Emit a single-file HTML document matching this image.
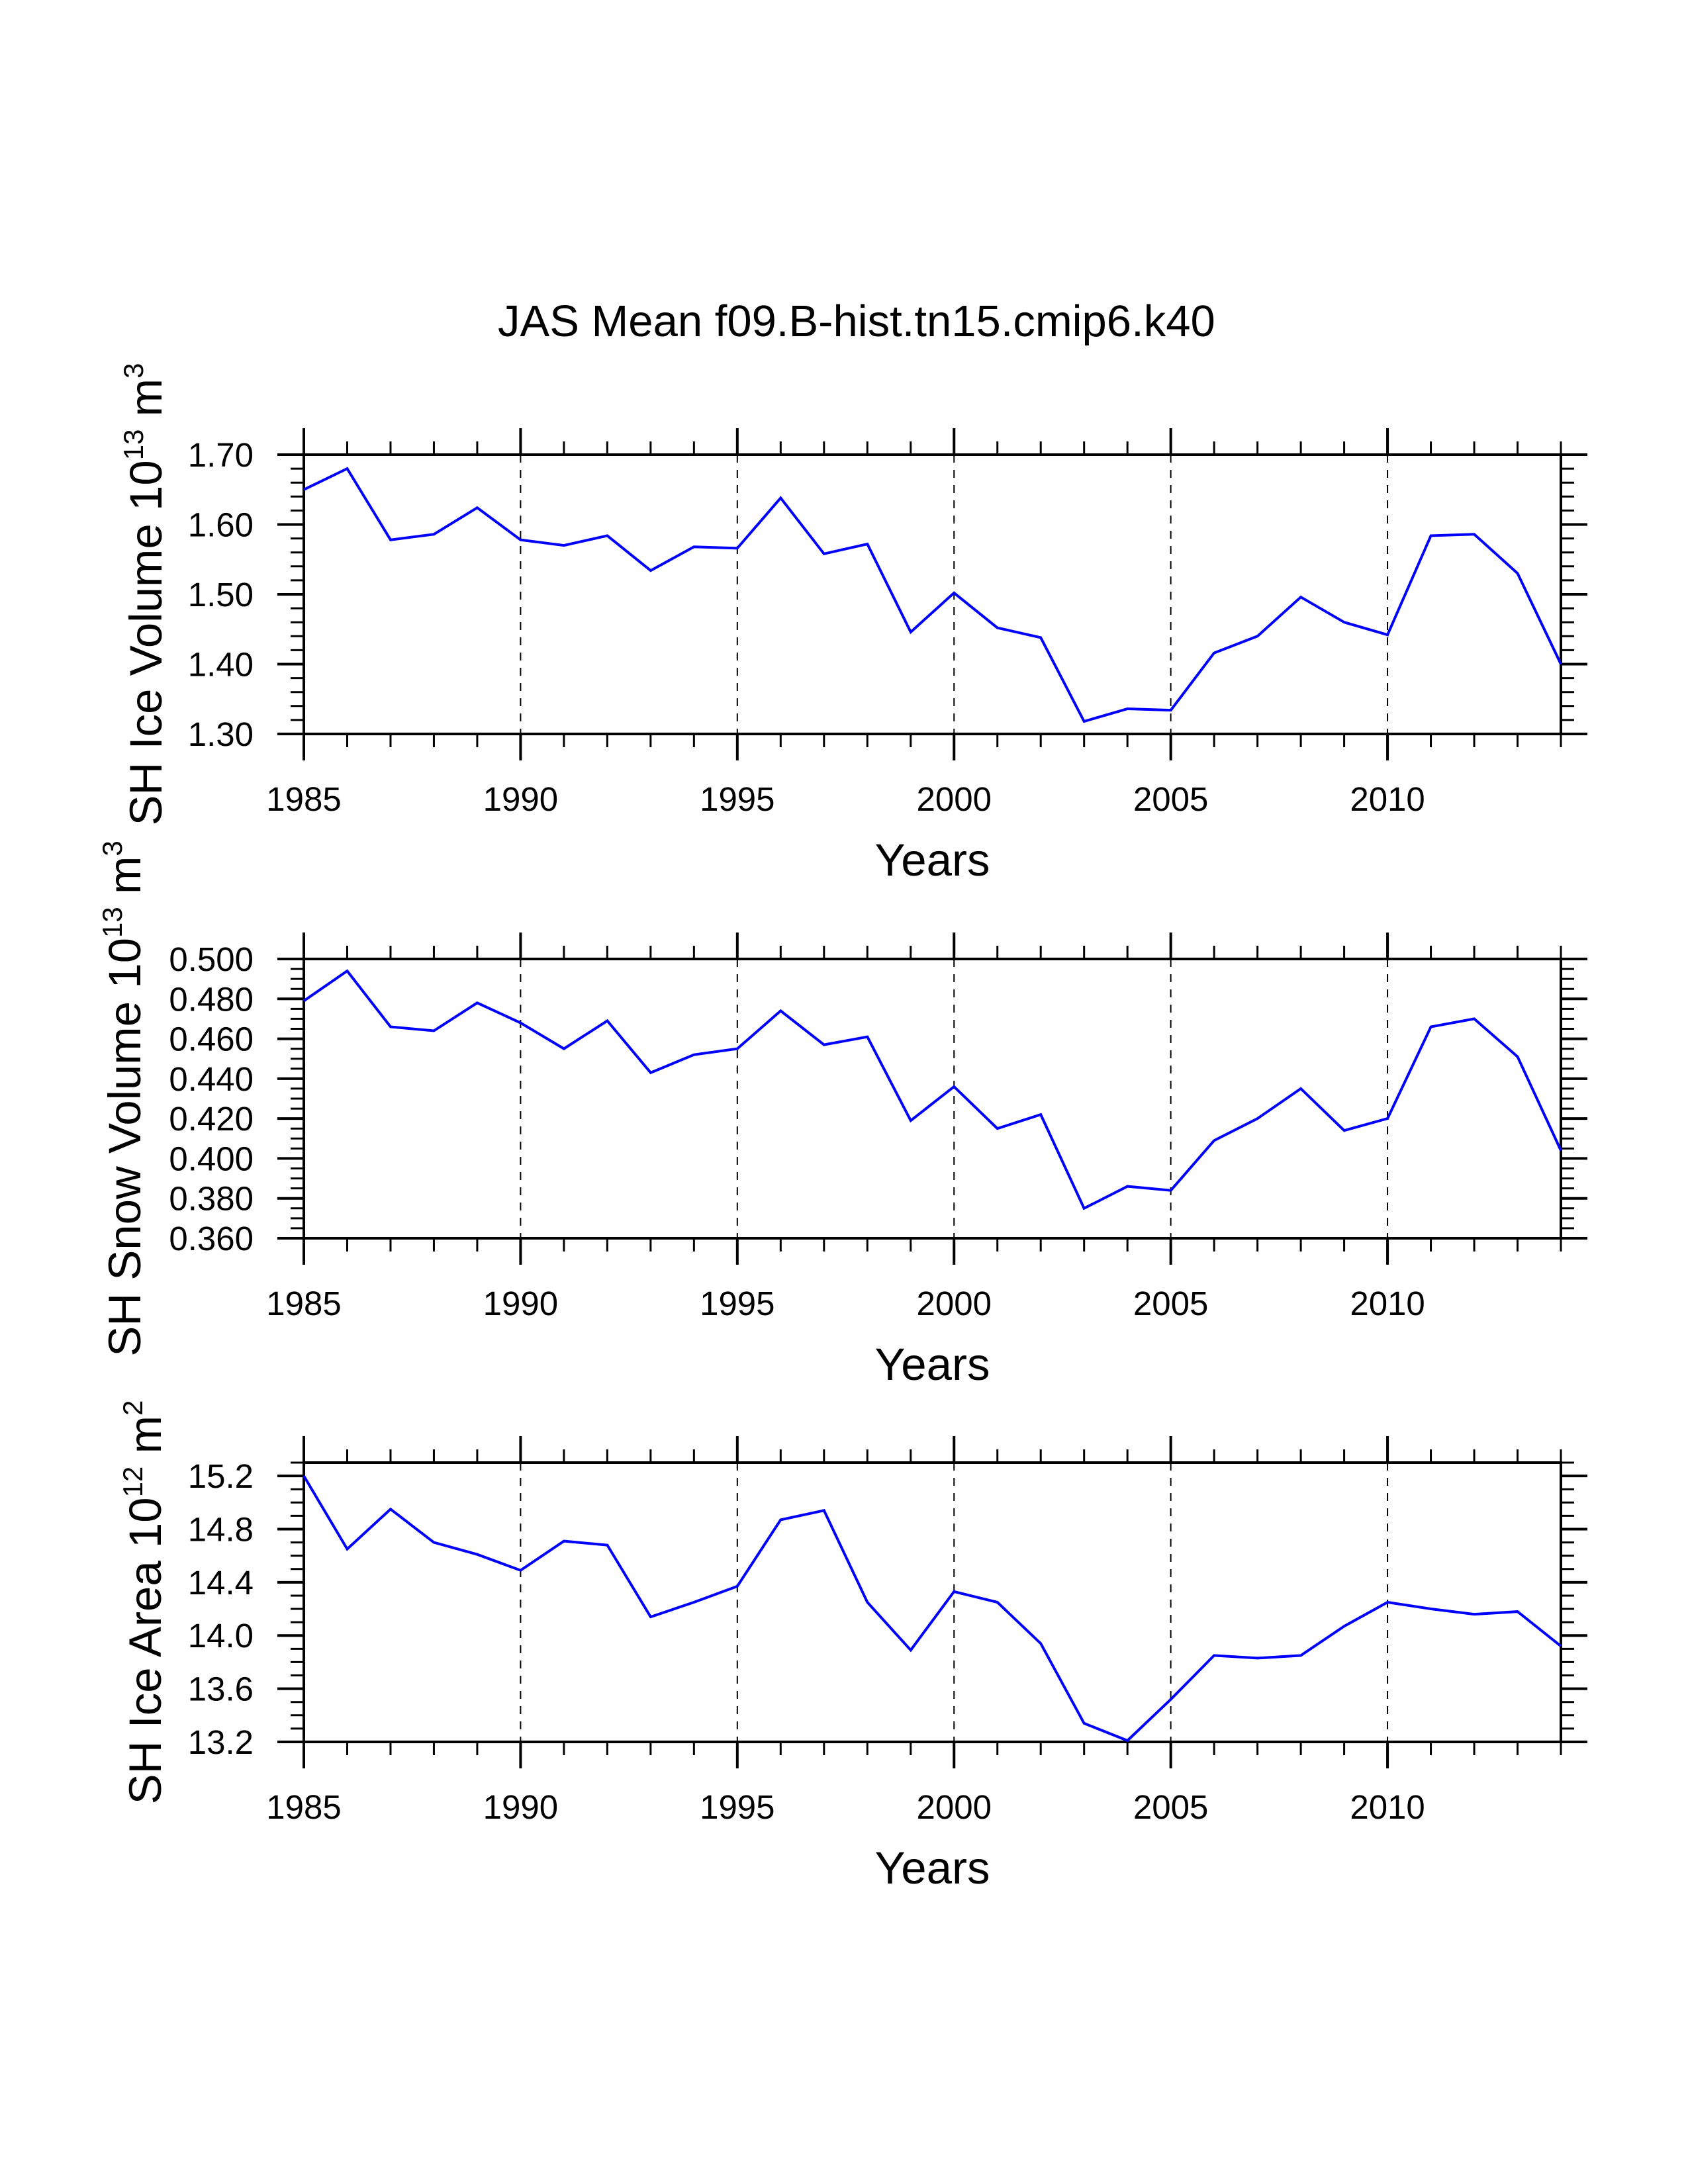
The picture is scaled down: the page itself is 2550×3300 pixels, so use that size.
<!DOCTYPE html>
<html><head><meta charset="utf-8"><title>JAS Mean f09.B-hist.tn15.cmip6.k40</title>
<style>html,body{margin:0;padding:0;background:#fff}svg{display:block}text{font-family:"Liberation Sans",Arial,sans-serif;fill:#000}</style>
</head><body>
<svg id="chart" xmlns="http://www.w3.org/2000/svg" width="2550" height="3300" viewBox="0 0 2550 3300">
<rect x="0" y="0" width="2550" height="3300" fill="#fff"/>
<text x="752" y="508" font-size="67">JAS Mean f09.B-hist.tn15.cmip6.k40</text>
</svg>
<script>
const years = [1985,1986,1987,1988,1989,1990,1991,1992,1993,1994,1995,1996,1997,1998,1999,2000,2001,2002,2003,2004,2005,2006,2007,2008,2009,2010,2011,2012,2013,2014];
const iceVolume = [1.650,1.680,1.578,1.586,1.624,1.578,1.570,1.584,1.534,1.568,1.566,1.638,1.558,1.572,1.446,1.502,1.452,1.438,1.318,1.336,1.334,1.416,1.440,1.496,1.460,1.442,1.584,1.586,1.530,1.400];
const snowVolume = [0.479,0.494,0.466,0.464,0.478,0.468,0.455,0.469,0.443,0.452,0.455,0.474,0.457,0.461,0.419,0.436,0.415,0.422,0.375,0.386,0.384,0.409,0.420,0.435,0.414,0.420,0.466,0.470,0.451,0.404];
const iceArea = [15.20,14.65,14.95,14.70,14.61,14.49,14.71,14.68,14.14,14.25,14.37,14.87,14.94,14.25,13.89,14.33,14.25,13.94,13.34,13.21,13.52,13.85,13.83,13.85,14.07,14.25,14.20,14.16,14.18,13.92];
const xTickLabels = ["1985","1990","1995","2000","2005","2010"];
const iceVolTicks = ["1.30","1.40","1.50","1.60","1.70"];
const snowVolTicks = ["0.360","0.380","0.400","0.420","0.440","0.460","0.480","0.500"];
const iceAreaTicks = ["13.2","13.6","14.0","14.4","14.8","15.2"];

const NS = "http://www.w3.org/2000/svg";
const svg = document.getElementById("chart");
const X0 = 459, X1 = 2358, H = 422;
const xMin = 1985, xMax = 2014;
function xs(v){ return X0 + (v - xMin) / (xMax - xMin) * (X1 - X0); }
function mk(tag, attrs, parent){
  const e = document.createElementNS(NS, tag);
  for (const k in attrs) e.setAttribute(k, attrs[k]);
  (parent || svg).appendChild(e);
  return e;
}
function line(g, x1, y1, x2, y2, w, name){
  const l = mk("line", {x1:x1, y1:y1, x2:x2, y2:y2, stroke:"#000", "stroke-width":w}, g);
  
  
  return l;
}

function panel(cfg){
  const top = cfg.top, bot = top + H;
  const ys = v => bot - (v - cfg.yMin) / (cfg.yMax - cfg.yMin) * H;
  const g = mk("g", {});
  
  

  for (let yr = 1990; yr <= 2010; yr += 5) {
    const d = mk("line", {x1:xs(yr), y1:top, x2:xs(yr), y2:bot, stroke:"#000", "stroke-width":2, "stroke-dasharray":"12 11"}, g);
    
    
  }

  for (let yr = xMin; yr <= xMax; yr++) {
    const major = (yr % 5 === 0);
    const len = major ? 40 : 20, w = major ? 4 : 3;
    line(g, xs(yr), top, xs(yr), top - len, w, 'x-tick-top');
    line(g, xs(yr), bot, xs(yr), bot + len, w, 'x-tick-bottom');
  }
  xTickLabels.forEach(s => {
    const t = mk("text", {x:xs(+s), y:bot + 116, "font-size":51, "text-anchor":"middle"}, g);
    
    
    t.textContent = s;
  });

  const nMinor = Math.round((cfg.yMax - cfg.yMin) / cfg.minor);
  for (let i = 0; i <= nMinor; i++) {
    const v = cfg.yMin + i * cfg.minor;
    const rel = (v - cfg.yMin) / cfg.major;
    const major = Math.abs(rel - Math.round(rel)) < 1e-6;
    const len = major ? 40 : 20, w = major ? 4 : 3;
    const y = ys(v);
    line(g, X0, y, X0 - len, y, w, 'y-tick-left');
    line(g, X1, y, X1 + len, y, w, 'y-tick-right');
  }
  cfg.ticks.forEach(s => {
    const t = mk("text", {x:383, y:ys(+s) + 18, "font-size":51, "text-anchor":"end"}, g);
    
    
    t.textContent = s;
  });

  const f = mk("rect", {x:X0, y:top, width:X1 - X0, height:H, fill:"none", stroke:"#000", "stroke-width":4}, g);
  
  

  const pts = cfg.data.map((v, i) => xs(years[i]).toFixed(1) + "," + ys(v).toFixed(1)).join(" ");
  const p = mk("polyline", {points:pts, fill:"none", stroke:"#0000ff", "stroke-width":4, "stroke-linejoin":"miter"}, g);
  
  

  const xt = mk("text", {x:(X0 + X1) / 2, y:bot + 214, "font-size":69, "text-anchor":"middle"}, g);
  
  
  xt.textContent = "Years";

  const cy = (top + bot) / 2;
  const yt = mk("text", {x:cfg.labelX, y:cy, "font-size":69, "text-anchor":"middle", transform:"rotate(-90 " + cfg.labelX + " " + cy + ")"}, g);
  
  
  const t1 = mk("tspan", {}, yt); t1.textContent = cfg.label + " 10";
  const t2 = mk("tspan", {dy:-28, "font-size":42}, yt); t2.textContent = cfg.exp;
  const t3 = mk("tspan", {dy:28}, yt); t3.textContent = " m";
  const t4 = mk("tspan", {dy:-28, "font-size":42}, yt); t4.textContent = cfg.unitExp;
}

panel({name:'ice-volume-panel', seriesName:'ice-volume-line', top:687, yMin:1.30, yMax:1.70, major:0.1, minor:0.02, ticks:iceVolTicks, data:iceVolume, label:'SH Ice Volume', exp:'13', unitExp:'3', labelX:244});
panel({name:'snow-volume-panel', seriesName:'snow-volume-line', top:1449, yMin:0.36, yMax:0.50, major:0.02, minor:0.005, ticks:snowVolTicks, data:snowVolume, label:'SH Snow Volume', exp:'13', unitExp:'3', labelX:212});
panel({name:'ice-area-panel', seriesName:'ice-area-line', top:2210, yMin:13.2, yMax:15.3, major:0.4, minor:0.1, ticks:iceAreaTicks, data:iceArea, label:'SH Ice Area', exp:'12', unitExp:'2', labelX:243});
</script>
</body></html>
